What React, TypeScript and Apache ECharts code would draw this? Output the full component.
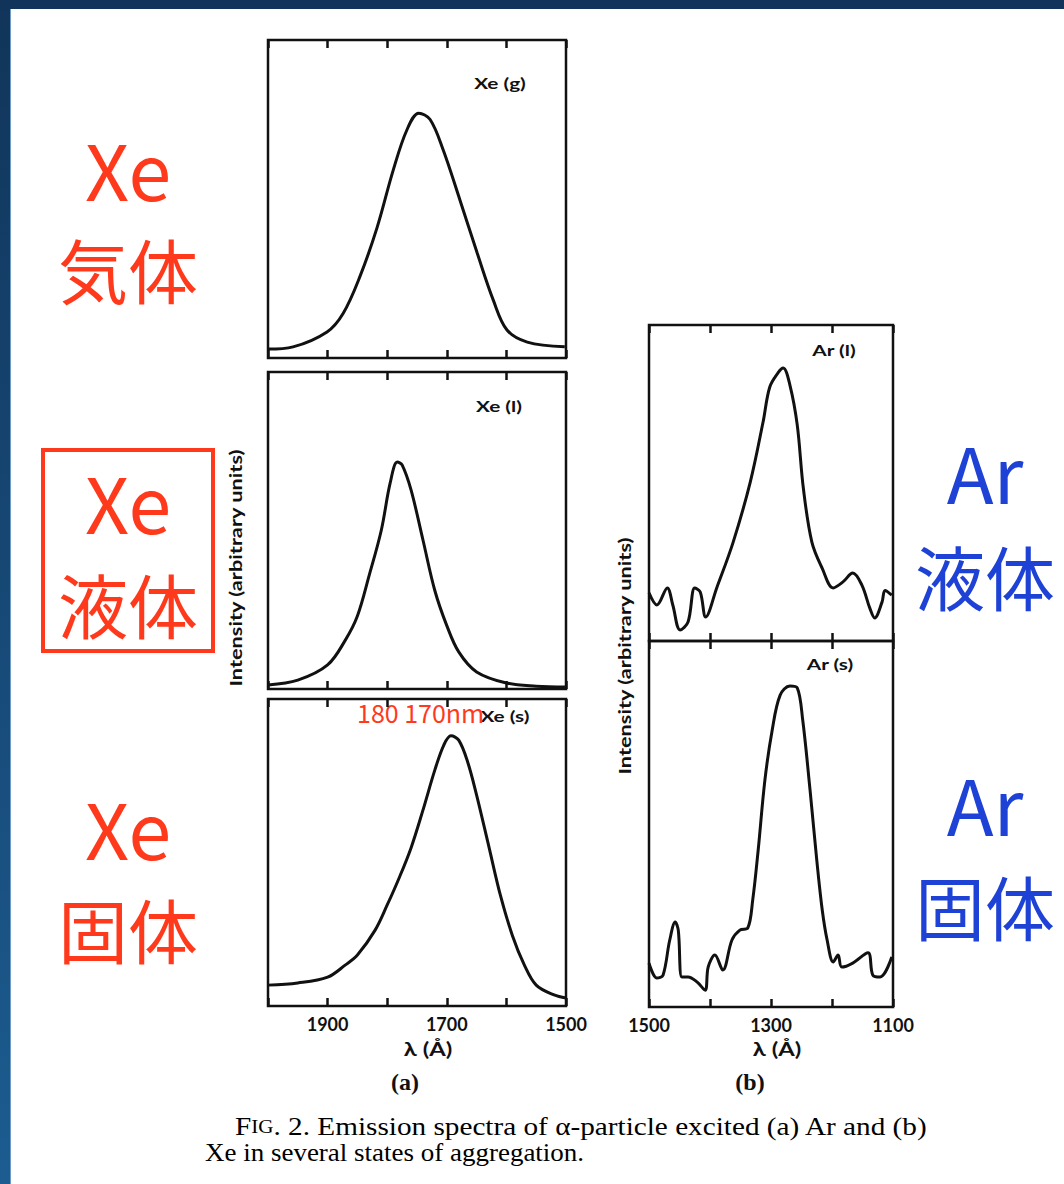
import React, { useEffect, useRef } from "react";
import * as echarts from "echarts";

// ---- Data (wavelength in Å, intensity in arbitrary units 0-100 of the panel height) ----
const xeGasWavelength = [2000, 1958, 1901, 1874, 1846, 1817, 1790, 1767, 1747, 1728, 1706, 1678, 1649, 1622, 1599, 1565, 1502];
const xeGasIntensity = [2.8, 3.5, 8.2, 14, 25.5, 41, 59, 71.7, 77, 75, 65.4, 49.7, 33, 18.2, 8.8, 5, 3.5];

const xeLiquidWavelength = [2000, 1950, 1900, 1870, 1850, 1830, 1810, 1795, 1783, 1775, 1760, 1740, 1720, 1700, 1680, 1650, 1600, 1550, 1500];
const xeLiquidIntensity = [1.3, 2.8, 7.6, 15.5, 23, 36, 50, 65, 71.6, 70.7, 62.8, 47, 31, 20, 11.7, 5.4, 1.9, 0.9, 0.6];

const xeSolidWavelength = [2000, 1950, 1900, 1870, 1850, 1820, 1800, 1780, 1760, 1740, 1720, 1705, 1693, 1680, 1665, 1650, 1630, 1610, 1590, 1570, 1550, 1520, 1500];
const xeSolidIntensity = [6.8, 7.5, 9.4, 13.4, 16.6, 24.8, 32.9, 41.7, 51.5, 63.8, 76.9, 85, 88, 86.6, 79.5, 68.7, 52.4, 36, 23, 13.4, 6.8, 3.6, 2.6];

const arLiquidWavelength = [1500, 1487, 1470, 1461, 1449, 1436, 1425, 1416, 1407, 1389, 1362, 1334, 1313, 1302, 1288, 1280, 1269, 1257, 1247, 1233, 1216, 1198, 1182, 1166, 1151, 1138, 1130, 1118, 1113, 1102];
const arLiquidIntensity = [15.2, 11.4, 16.8, 11.4, 3.5, 6, 16.8, 15.5, 7.6, 16.8, 31.3, 50.3, 69.3, 80.4, 85, 86.4, 81, 68.4, 48.4, 31.3, 23, 16.8, 18.7, 21.5, 17.7, 10.4, 7.3, 12.3, 16, 14.5];

const arSolidWavelength = [1500, 1487, 1477, 1466, 1457, 1452, 1446, 1436, 1421, 1408, 1403, 1392, 1379, 1364, 1351, 1338, 1330, 1321, 1310, 1298, 1285, 1269, 1257, 1248, 1236, 1225, 1216, 1208, 1198, 1190, 1184, 1166, 1141, 1133, 1121, 1102];
const arSolidIntensity = [12, 7.9, 8.7, 18.3, 23.2, 21, 8.2, 8.2, 6.8, 4.6, 10.9, 14.2, 10.1, 18.3, 21, 21.6, 29.2, 42.9, 62, 75.7, 85.2, 87.7, 87.2, 78.4, 59.3, 40.2, 26.5, 18.3, 12.3, 14.2, 10.9, 12, 14.8, 8.7, 8.2, 13.7];

const xeTickLabels = [1900, 1700, 1500];
const arTickLabels = [1500, 1300, 1100];
const panelTitles = ["Xe (g)", "Xe (l)", "Xe (s)", "Ar (l)", "Ar (s)"];

const zip = (xs: number[], ys: number[]) => xs.map((x, i) => [x, ys[i]]);

export default function App() {
  const ref = useRef<HTMLDivElement>(null);
  useEffect(() => {
    if (!ref.current) return;
    const chart = echarts.init(ref.current, null, { renderer: "svg" });
    const INK = "#111";
    const RED = "#ff3a1c";
    const BLUE = "#1e42d6";
    const grids = [
      { left: 268, top: 40, width: 298, height: 318 },
      { left: 268, top: 372, width: 298, height: 317 },
      { left: 268, top: 699, width: 298, height: 307 },
      { left: 649, top: 325, width: 244, height: 316 },
      { left: 649, top: 641, width: 244, height: 366 },
    ].map((g) => ({ ...g, show: true, borderColor: INK, borderWidth: 2.5, backgroundColor: "transparent" }));

    const xAxes: any[] = [];
    grids.forEach((_, i) => {
      const isXe = i < 3;
      const labels = isXe ? xeTickLabels : arTickLabels;
      const showLabels = i === 2 || i === 4;
      const base = {
        type: "value",
        gridIndex: i,
        min: isXe ? 1500 : 1100,
        max: isXe ? 2000 : 1500,
        interval: 100,
        inverse: true,
        axisLine: { show: false },
        splitLine: { show: false },
        axisTick: { show: true, inside: true, length: 8, lineStyle: { color: INK, width: 2.5 } },
      };
      xAxes.push({
        ...base,
        position: "bottom",
        axisLabel: {
          show: showLabels,
          margin: 9,
          color: INK,
          fontSize: 18,
          fontWeight: "bold",
          fontFamily: "Lato",
          showMinLabel: true,
          showMaxLabel: true,
          formatter: (v: number) => (labels.includes(v) ? String(v) : ""),
        },
      });
      xAxes.push({ ...base, position: "top", axisLabel: { show: false } });
    });

    const yAxes = grids.map((_, i) => ({
      type: "value",
      gridIndex: i,
      min: 0,
      max: 100,
      axisLine: { show: false },
      axisTick: { show: false },
      axisLabel: { show: false },
      splitLine: { show: false },
    }));

    const seriesData = [
      zip(xeGasWavelength, xeGasIntensity),
      zip(xeLiquidWavelength, xeLiquidIntensity),
      zip(xeSolidWavelength, xeSolidIntensity),
      zip(arLiquidWavelength, arLiquidIntensity),
      zip(arSolidWavelength, arSolidIntensity),
    ];
    const series = seriesData.map((d, i) => ({
      type: "line",
      name: panelTitles[i],
      xAxisIndex: i * 2,
      yAxisIndex: i,
      data: d,
      smooth: 0.35,
      showSymbol: false,
      lineStyle: { color: INK, width: 3 },
    }));

    const bold = (size: number, fam = "Lato") => `bold ${size}px ${fam}`;
    const txt = (text: string, x: number, y: number, font: string, fill = INK, extra: any = {}) => ({
      type: "text",
      x,
      y,
      ...extra,
      style: { text, font, fill, textAlign: "center", textVerticalAlign: "middle", ...(extra.style || {}) },
    });

    const titlePos = [
      [500, 83],
      [499, 406],
      [505, 716],
      [834, 350],
      [830, 664],
    ];
    const CJK = "'Noto Sans CJK JP'";
    const graphic: any[] = [
      { type: "rect", shape: { x: 0, y: 0, width: 1064, height: 9 }, style: { fill: "#11355a" }, silent: true },
      {
        type: "rect",
        shape: { x: 0, y: 0, width: 10, height: 1184 },
        style: {
          fill: new echarts.graphic.LinearGradient(0, 0, 0, 1, [
            { offset: 0, color: "#11355a" },
            { offset: 1, color: "#1c5c90" },
          ]),
        },
        silent: true,
      },
      { type: "rect", shape: { x: 10, y: 9, width: 1, height: 1175 }, style: { fill: "#6f9cc6" }, silent: true },
      ...panelTitles.map((t, i) => txt(t, titlePos[i][0], titlePos[i][1], bold(16), INK, { scaleX: 1.3 })),
      txt("Intensity (arbitrary units)", 235, 568, bold(17), INK, { rotation: Math.PI / 2, scaleX: 1.28 }),
      txt("Intensity (arbitrary units)", 624, 656, bold(17), INK, { rotation: Math.PI / 2, scaleX: 1.28 }),
      txt("λ (Å)", 428, 1049, bold(19), INK, { scaleX: 1.25 }),
      txt("λ (Å)", 777, 1049, bold(19), INK, { scaleX: 1.25 }),
      txt("(a)", 405, 1082, "bold 24px 'Liberation Serif'"),
      txt("(b)", 750, 1082, "bold 24px 'Liberation Serif'"),
      {
        type: "text",
        x: 235,
        y: 1127,
        scaleX: 1.17,
        style: {
          text: "{a|F}{b|IG}{a|. 2. Emission spectra of α-particle excited (a) Ar and (b)}",
          textVerticalAlign: "middle",
          fill: "#000",
          rich: {
            a: { font: "25px 'Liberation Serif'", fill: "#000" },
            b: { font: "18px 'Liberation Serif'", fill: "#000" },
          },
        },
      },
      {
        type: "text",
        x: 205,
        y: 1153,
        scaleX: 1.08,
        style: { text: "Xe in several states of aggregation.", font: "25px 'Liberation Serif'", fill: "#000", textVerticalAlign: "middle" },
      },
      // red annotations
      txt("Xe", 128, 167, `77px ${CJK}`, RED),
      txt("気体", 128, 268, `70px ${CJK}`, RED),
      txt("Xe", 128, 500, `77px ${CJK}`, RED),
      txt("液体", 128, 603, `70px ${CJK}`, RED),
      txt("Xe", 128, 826, `77px ${CJK}`, RED),
      txt("固体", 128, 928, `70px ${CJK}`, RED),
      {
        type: "rect",
        shape: { x: 43, y: 450, width: 170, height: 201 },
        style: { fill: "none", stroke: RED, lineWidth: 4 },
      },
      {
        type: "text",
        x: 357,
        y: 712,
        style: { text: "180 170nm", font: `25px ${CJK}`, fill: RED, textVerticalAlign: "middle" },
      },
      // blue annotations
      txt("Ar", 985, 470, `77px ${CJK}`, BLUE),
      txt("液体", 985, 575, `70px ${CJK}`, BLUE),
      txt("Ar", 985, 802, `77px ${CJK}`, BLUE),
      txt("固体", 985, 905, `70px ${CJK}`, BLUE),
    ];

    chart.setOption({
      animation: false,
      backgroundColor: "#ffffff",
      grid: grids,
      xAxis: xAxes,
      yAxis: yAxes,
      series,
      graphic,
    });
    return () => chart.dispose();
  }, []);

  return <div ref={ref} style={{ position: "absolute", left: 0, top: 0, width: 1064, height: 1184, background: "#fff" }} />;
}
